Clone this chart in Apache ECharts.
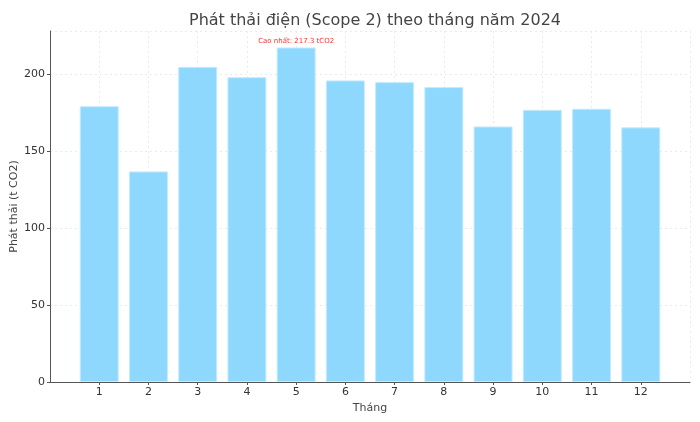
<!DOCTYPE html>
<html>
<head>
<meta charset="utf-8">
<script src="https://cdn.jsdelivr.net/npm/echarts@6/dist/echarts.min.js"></script>
<style>html,body{margin:0;padding:0;background:#fff}#c{width:700px;height:422px}</style>
</head>
<body>
<div id="c"></div>
<script>
const months = [1,2,3,4,5,6,7,8,9,10,11,12];
const emissions = [179.2, 136.8, 204.7, 198.0, 217.3, 195.9, 194.8, 191.6, 166.0, 176.8, 177.5, 165.4];
const yTicks = [0, 50, 100, 150, 200];
const titleText = 'Phát thải điện (Scope 2) theo tháng năm 2024';
const yName = 'Phát thải (t CO2)';
const xName = 'Tháng';

const maxVal = Math.max(...emissions);
const maxIdx = emissions.indexOf(maxVal);
const font = 'DejaVu Sans';

const data = months.map((m, i) => {
  const item = { value: [m, emissions[i]] };
  if (i === maxIdx) {
    item.label = {
      show: true, position: 'top', distance: 3,
      formatter: p => 'Cao nhất: ' + p.value[1].toFixed(1) + ' tCO2',
      color: '#ff3333', fontSize: 7, fontFamily: font
    };
  }
  return item;
});

const chart = echarts.init(document.getElementById('c'), null, { renderer: 'canvas' });
chart.setOption({
  animation: false,
  backgroundColor: '#fff',
  title: {
    text: titleText, left: 370, top: 8, textAlign: 'center',
    textStyle: { fontFamily: font, fontSize: 16, fontWeight: 'normal', color: '#444' }
  },
  grid: { left: 50, right: 10, top: 31, bottom: 40, containLabel: false, outerBoundsMode: 'none' },
  xAxis: {
    type: 'value', min: 0, max: 13, interval: 1,
    name: xName, nameLocation: 'middle', nameGap: 21, nameMoveOverlap: false,
    nameTextStyle: { fontFamily: font, fontSize: 11, color: '#444' },
    axisLine: { show: true, lineStyle: { color: '#555', width: 1 } },
    axisTick: { show: true, length: 3, lineStyle: { color: '#555' } },
    axisLabel: {
      fontFamily: font, fontSize: 11, color: '#333', margin: 5,
      showMinLabel: false, showMaxLabel: false,
      formatter: v => (months.includes(v) ? String(v) : '')
    },
    splitLine: { show: true, lineStyle: { color: '#e6e6e6', type: [2, 3], width: 0.8 } }
  },
  yAxis: {
    type: 'value', min: 0, max: 228, interval: 50,
    name: yName, nameLocation: 'middle', nameGap: 30, nameRotate: 90, nameMoveOverlap: false,
    nameTextStyle: { fontFamily: font, fontSize: 11, color: '#444' },
    axisLine: { show: true, lineStyle: { color: '#555', width: 1 } },
    axisTick: { show: true, length: 3, lineStyle: { color: '#555' } },
    axisLabel: {
      fontFamily: font, fontSize: 11, color: '#333', margin: 5,
      showMaxLabel: false,
      formatter: v => (yTicks.includes(v) ? String(v) : '')
    },
    splitLine: { show: true, lineStyle: { color: '#e6e6e6', type: [2, 3], width: 0.8 } }
  },
  series: [{
    type: 'bar',
    data: data,
    barWidth: 39,
    itemStyle: { color: '#8fd8fd', borderColor: '#c4ebfe', borderWidth: 1 }
  }]
});
</script>
</body>
</html>
